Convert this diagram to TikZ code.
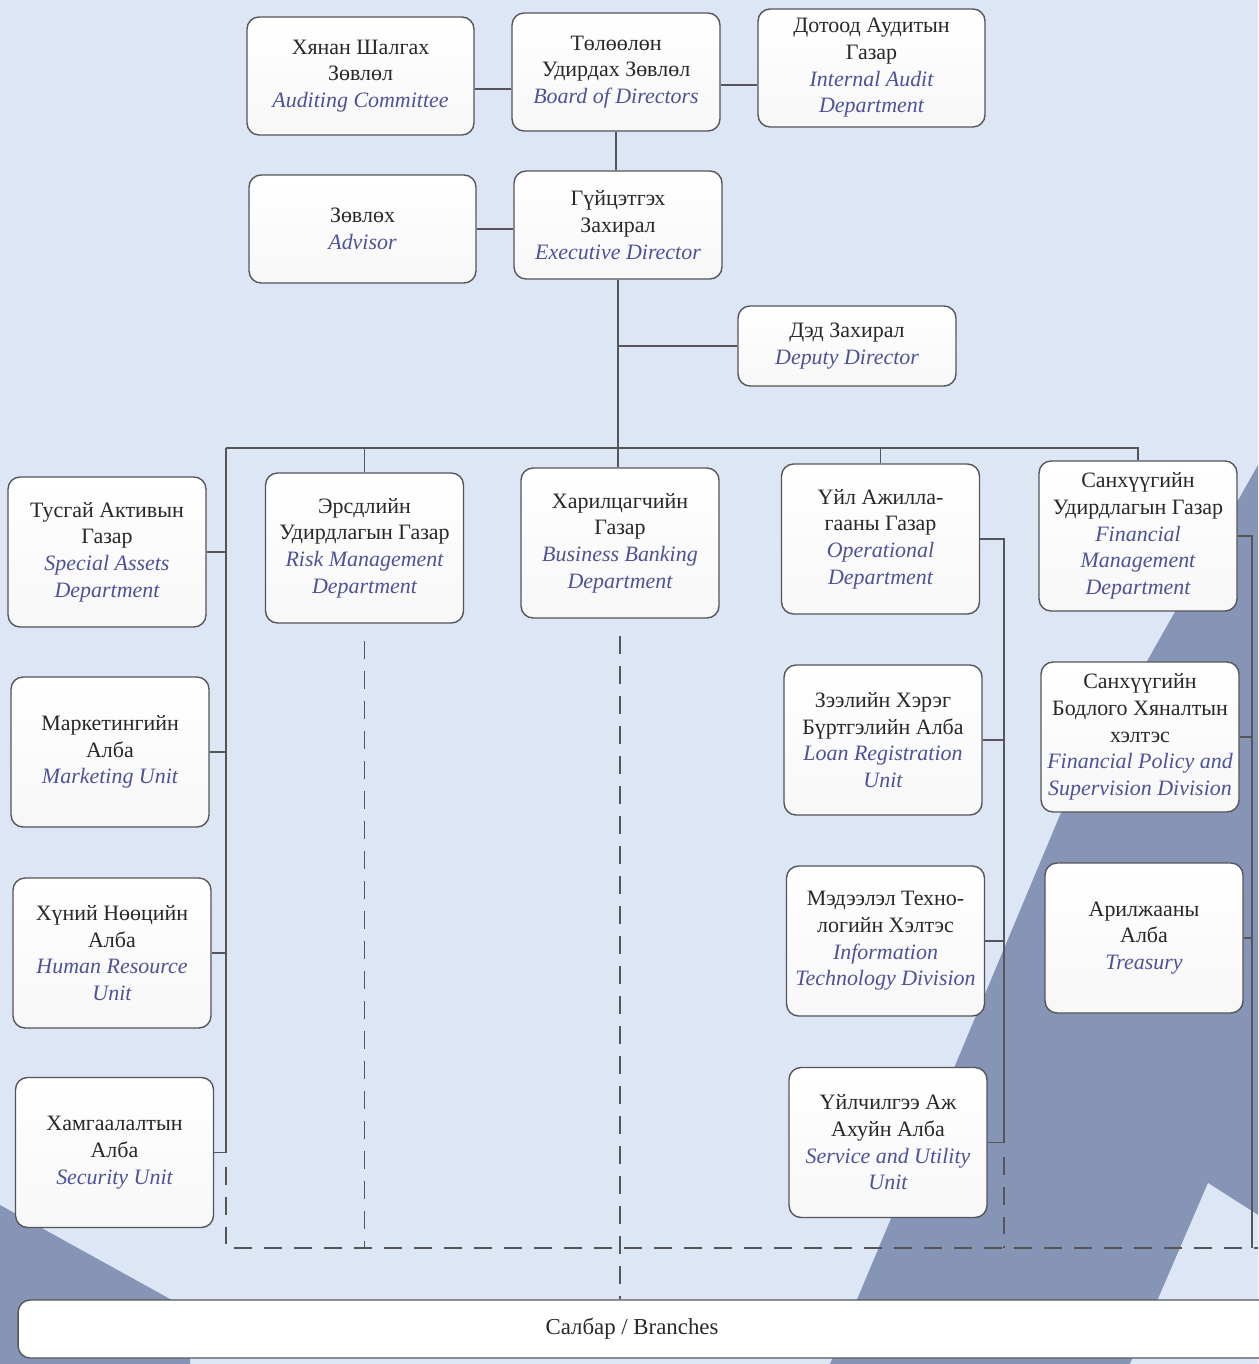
\documentclass[tikz,border=0pt]{standalone}
\usepackage{fontspec}
\setmainfont{Liberation Serif}
\usepackage{xcolor}
\usetikzlibrary{positioning,calc}
\definecolor{bglight}{RGB}{221,230,244}
\definecolor{bgdark}{RGB}{134,148,182}
\definecolor{linegray}{RGB}{85,85,90}
\definecolor{engblue}{RGB}{78,82,150}
\definecolor{textgray}{RGB}{40,40,40}
\newcommand{\entxt}[1]{{\itshape\color{engblue}#1}}

\begin{document}
\begin{tikzpicture}[
    x=0.02cm, y=-0.02cm,
    box/.style={draw=linegray, line width=0.8pt, rounded corners=0.24cm, top color=white, bottom color=black!3,
        align=center, inner sep=2pt, text=textgray, font=\fontsize{12.5}{15.2}\selectfont},
    topbox/.style={box, minimum width=4.54cm, minimum height=2.36cm},
    midbox/.style={box, minimum width=4.16cm, minimum height=2.36cm},
    unitbox/.style={box, minimum width=3.96cm, minimum height=3cm},
    link/.style={draw=linegray, line width=0.8pt},
    dashlink/.style={link, dash pattern=on 0.36cm off 0.24cm},
]
    \useasboundingbox (0,0) rectangle (1258,1364);
    % background
    \fill[bglight] (0,0) rectangle (1258,1364);
    \fill[bgdark] (1258,465) -- (1060,815) -- (830,1364) -- (1258,1364) -- cycle;
    \fill[bglight] (1208,1183) -- (1258,1215) -- (1258,1364) -- (1130,1364) -- cycle;
    \fill[bgdark] (0,1205) -- (190,1310) -- (190,1364) -- (0,1364) -- cycle;

    % board level
    \node[topbox] (audit) at (360.5,76) {Хянан Шалгах\\Зөвлөл\\\entxt{Auditing Committee}};
    \node[midbox] (board) at (616,72) {Төлөөлөн\\Удирдах Зөвлөл\\\entxt{Board of Directors}};
    \node[topbox] (intaudit) at (871.5,68) {Дотоод Аудитын\\Газар\\\entxt{Internal Audit}\\\entxt{Department}};
    % management
    \node[topbox, minimum height=2.16cm] (advisor) at (362.5,229) {Зөвлөх\\\entxt{Advisor}};
    \node[midbox, minimum height=2.16cm] (exec) at (618,225) {Гүйцэтгэх\\Захирал\\\entxt{Executive Director}};
    \node[box, minimum width=4.36cm, minimum height=1.6cm] (deputy) at (847,346) {Дэд Захирал\\\entxt{Deputy Director}};

    % departments
    \node[unitbox] (special) at (107,552) {Тусгай Активын\\Газар\\\entxt{Special Assets}\\\entxt{Department}};
    \node[unitbox] (risk) at (364.5,548) {Эрсдлийн\\Удирдлагын Газар\\\entxt{Risk Management}\\\entxt{Department}};
    \node[unitbox] (bb) at (620,543) {Харилцагчийн\\Газар\\\entxt{Business Banking}\\\entxt{Department}};
    \node[unitbox] (ops) at (880.5,539) {Үйл Ажилла-\\гааны Газар\\\entxt{Operational}\\\entxt{Department}};
    \node[unitbox] (fm) at (1138,536) {Санхүүгийн\\Удирдлагын Газар\\\entxt{Financial}\\\entxt{Management}\\\entxt{Department}};

    % units
    \node[unitbox] (marketing) at (110,752) {Маркетингийн\\Алба\\\entxt{Marketing Unit}};
    \node[unitbox] (hr) at (112,953) {Хүний Нөөцийн\\Алба\\\entxt{Human Resource}\\\entxt{Unit}};
    \node[unitbox] (security) at (114.5,1152.5) {Хамгаалалтын\\Алба\\\entxt{Security Unit}};
    \node[unitbox] (loan) at (883,740) {Зээлийн Хэрэг\\Бүртгэлийн Алба\\\entxt{Loan Registration}\\\entxt{Unit}};
    \node[unitbox] (itd) at (885.5,941) {Мэдээлэл Техно-\\логийн Хэлтэс\\\entxt{Information}\\\entxt{Technology Division}};
    \node[unitbox] (service) at (888,1142.5) {Үйлчилгээ Аж\\Ахуйн Алба\\\entxt{Service and Utility}\\\entxt{Unit}};
    \node[unitbox] (fp) at (1140,737) {Санхүүгийн\\Бодлого Хяналтын\\хэлтэс\\\entxt{Financial Policy and}\\\entxt{Supervision Division}};
    \node[unitbox] (treasury) at (1144,938) {Арилжааны\\Алба\\\entxt{Treasury}};

    \node[box, minimum width=25.44cm, minimum height=1.16cm, top color=white, bottom color=white,
        label={[xshift=-0.44cm, text=textgray, font=\fontsize{13}{15.2}\selectfont]center:Салбар / Branches}] (branches) at (654,1329) {};

    % spines
    \coordinate (busL) at (226,448);
    \coordinate (opsline) at (1004,539);
    \coordinate (finline) at (1252,536);
    \coordinate (dashbase) at (226,1248);
    \coordinate (dashend) at (1258,1248);

    % top connectors
    \draw[link] ([yshift=-0.26cm]audit.east) -- ([yshift=-0.26cm]audit.east -| board.west);
    \draw[link] ([yshift=-0.26cm]board.east) -- ([yshift=-0.26cm]board.east -| intaudit.west);
    \draw[link] (board.south) -- (board.south |- exec.north);
    \draw[link] (advisor.east) -- (advisor.east -| exec.west);
    \draw[link] (exec.south) -- (exec.south |- bb.north);
    \draw[link] (deputy.west) -- (deputy.west -| exec.south);
    \draw[link] (busL) -- (busL -| fm.north) -- (fm.north);
    \foreach \n in {risk,ops}
        \draw[link] (\n.north |- busL) -- (\n.north);

    % left column
    \foreach \n in {special,marketing,hr}
        \draw[link] (\n.east) -- (\n.east -| busL);
    \draw[link] (busL) -- (busL |- security) -- (security.east);
    % operations column
    \foreach \n in {loan,itd}
        \draw[link] (\n.east) -- (\n.east -| opsline);
    \draw[link] (ops.east) -- (opsline) -- (opsline |- service) -- (service.east);
    % finance column
    \foreach \n in {fp,treasury}
        \draw[link] (\n.east) -- (\n.east -| finline);
    \draw[link] (fm.east) -- (finline) -- (finline |- dashbase);

    % dashed links to branches
    \draw[dashlink] ($(busL |- security)+(0,14)$) -- (dashbase) -- (dashend);
    \draw[dashlink] ($(risk.south)+(0,17)$) -- (risk.south |- dashbase);
    \draw[dashlink] ($(bb.south)+(0,17)$) -- (bb.south |- branches.north);
    \draw[dashlink] ($(opsline |- service)+(0,14)$) -- (opsline |- dashbase);
\end{tikzpicture}
\end{document}
